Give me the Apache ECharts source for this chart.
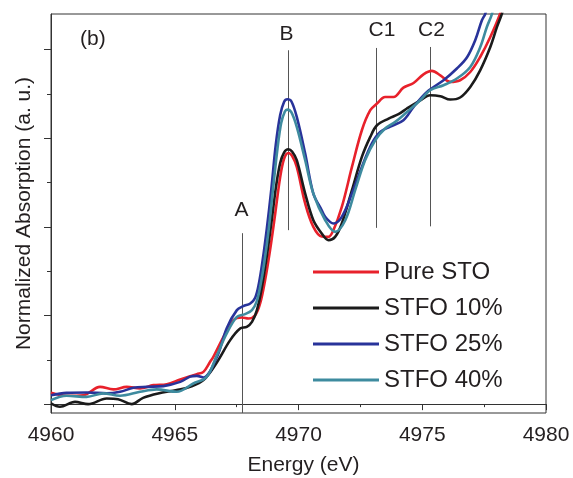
<!DOCTYPE html>
<html>
<head>
<meta charset="utf-8">
<script src="https://cdn.jsdelivr.net/npm/echarts@6/dist/echarts.min.js"></script>
<style>
html,body{margin:0;padding:0;background:#fff;}
#chart{width:573px;height:478px;}
</style>
</head>
<body>
<div id="chart"></div>
<script>
// ---- data (Energy eV, normalized absorption a.u.) ----
const seriesNames = ['Pure STO', 'STFO 10%', 'STFO 25%', 'STFO 40%'];
const seriesColors = ['#e8212b', '#1b1b1b', '#28339a', '#3e8b9f'];

const pureSTO = [
  [4960.00,0.127],[4960.63,0.094],[4961.31,0.101],[4961.98,0.195],[4962.52,0.166],[4963.06,0.195],
  [4963.60,0.177],[4964.14,0.214],[4964.68,0.225],[4965.22,0.278],[4965.89,0.338],[4966.16,0.364],
  [4966.43,0.477],[4966.56,0.533],[4966.97,0.759],[4967.37,0.947],[4967.71,0.977],[4967.98,0.966],
  [4968.25,1.003],[4968.45,1.135],[4968.65,1.398],[4968.85,1.736],[4969.06,2.150],[4969.26,2.560],
  [4969.42,2.770],[4969.59,2.833],[4969.74,2.800],[4969.93,2.675],[4970.27,2.263],[4970.60,1.999],
  [4970.94,1.890],[4971.21,1.886],[4971.41,1.962],[4971.75,2.224],[4972.16,2.675],[4972.56,3.089],
  [4972.90,3.315],[4973.17,3.390],[4973.50,3.464],[4973.84,3.464],[4974.24,3.570],[4974.65,3.622],
  [4975.05,3.720],[4975.39,3.758],[4975.73,3.709],[4976.13,3.634],[4976.53,3.653],[4976.94,3.746],
  [4977.34,3.915],[4977.75,4.140],[4978.15,4.405],[4978.35,4.600]
];
const stfo10 = [
  [4960.00,0.008],[4960.36,-0.030],[4960.97,0.026],[4961.50,0.000],[4962.25,0.064],[4962.71,0.056],
  [4963.26,0.000],[4963.72,0.071],[4964.33,0.121],[4965.08,0.158],[4965.62,0.195],[4966.16,0.271],
  [4966.70,0.470],[4967.24,0.722],[4967.64,0.853],[4967.91,0.871],[4968.12,0.928],[4968.32,1.060],
  [4968.52,1.320],[4968.72,1.670],[4968.92,2.080],[4969.10,2.470],[4969.26,2.720],[4969.42,2.840],
  [4969.59,2.875],[4969.74,2.850],[4969.93,2.751],[4970.27,2.375],[4970.60,2.074],[4970.94,1.924],
  [4971.21,1.849],[4971.48,1.886],[4971.75,2.037],[4972.16,2.413],[4972.56,2.788],[4972.90,3.014],
  [4973.17,3.145],[4973.64,3.221],[4974.04,3.270],[4974.38,3.334],[4974.92,3.427],[4975.32,3.484],
  [4975.73,3.473],[4976.13,3.435],[4976.53,3.458],[4976.94,3.577],[4977.34,3.765],[4977.75,4.028],
  [4978.02,4.254],[4978.22,4.405],[4978.40,4.600]
];
const stfo25 = [
  [4960.00,0.101],[4960.63,0.127],[4961.44,0.132],[4962.25,0.121],[4962.79,0.139],[4963.33,0.184],
  [4963.87,0.195],[4964.54,0.203],[4965.22,0.251],[4965.62,0.310],[4965.89,0.319],[4966.16,0.300],
  [4966.70,0.530],[4967.10,0.857],[4967.51,1.060],[4967.77,1.105],[4968.05,1.135],[4968.25,1.200],
  [4968.40,1.360],[4968.55,1.620],[4968.72,1.980],[4968.90,2.420],[4969.08,2.920],[4969.26,3.260],
  [4969.42,3.410],[4969.55,3.438],[4969.71,3.416],[4969.93,3.239],[4970.27,2.826],[4970.60,2.375],
  [4970.94,2.187],[4971.08,2.112],[4971.41,2.037],[4971.75,2.112],[4972.16,2.375],[4972.56,2.675],
  [4972.96,2.939],[4973.30,3.070],[4973.71,3.130],[4974.24,3.202],[4974.65,3.352],[4975.19,3.521],
  [4975.86,3.653],[4976.40,3.785],[4976.81,3.912],[4977.14,4.104],[4977.41,4.329],[4977.55,4.405],
  [4977.71,4.600]
];
const stfo40 = [
  [4960.00,0.045],[4960.63,0.094],[4961.44,0.082],[4962.11,0.121],[4962.79,0.094],[4963.60,0.139],
  [4964.27,0.166],[4965.08,0.139],[4965.75,0.233],[4966.29,0.308],[4966.70,0.550],[4967.10,0.797],
  [4967.51,0.984],[4967.84,1.015],[4968.12,1.060],[4968.30,1.150],[4968.45,1.320],[4968.62,1.600],
  [4968.80,1.980],[4968.98,2.450],[4969.15,2.880],[4969.30,3.170],[4969.45,3.300],[4969.55,3.322],
  [4969.71,3.292],[4969.93,3.126],[4970.27,2.751],[4970.60,2.375],[4971.08,2.074],[4971.48,1.943],
  [4971.89,2.074],[4972.29,2.413],[4972.69,2.751],[4973.10,2.976],[4973.50,3.108],[4973.91,3.183],
  [4974.31,3.277],[4974.92,3.427],[4975.32,3.540],[4975.86,3.597],[4976.40,3.672],[4976.94,3.803],
  [4977.34,4.025],[4977.61,4.254],[4977.82,4.405],[4977.95,4.600]
];
const allSeries = [pureSTO, stfo10, stfo25, stfo40];

// x axis ticks
const xMin = 4960, xMax = 4980, xStep = 5;
// y axis ticks (no labels in the original)
const yMin = -0.1, yMax = 4.4;
const yMajorTicks = [0, 1, 2, 3, 4];
const yMinorTicks = [0.5, 1.5, 2.5, 3.5];

// feature annotations
const featNames = ['A', 'B', 'C1', 'C2'];
const featLineX = [4967.73, 4969.58, 4973.14, 4975.32];
const featLineTop = [1.928, 3.991, 4.017, 4.028];
const featLineBottom = [-0.1, 1.962, 1.988, 2.005];
const featLabelX = [4967.70, 4969.52, 4973.37, 4975.37];
const featLabelY = [2.187, 4.171, 4.222, 4.222];

const FONT = '"Liberation Sans", Arial, sans-serif';
const TXT = '#231f20';

const chart = echarts.init(document.getElementById('chart'), null, {renderer: 'canvas'});

const lineSeries = seriesNames.map((name, i) => ({
  name: name,
  type: 'line',
  data: allSeries[i],
  showSymbol: false,
  symbol: 'none',
  smooth: 0.35,
  clip: true,
  lineStyle: {color: seriesColors[i], width: 2.6},
  itemStyle: {color: seriesColors[i]},
  z: 3 + i,
  silent: true
}));

const markLineData = featNames.map((n, i) => [
  {coord: [featLineX[i], featLineBottom[i]]},
  {coord: [featLineX[i], featLineTop[i]]}
]);

const annotSeries = {
  type: 'scatter',
  name: 'annot',
  data: featNames.map((n, i) => ({name: n, value: [featLabelX[i], featLabelY[i]]})),
  symbolSize: 0,
  silent: true,
  z: 10,
  itemStyle: {opacity: 1, color: TXT},
  label: {
    show: true,
    position: 'inside',
    formatter: '{b}',
    fontFamily: FONT,
    fontSize: 21,
    color: TXT,
    opacity: 1
  },
  markLine: {
    silent: true,
    symbol: ['none', 'none'],
    label: {show: false},
    lineStyle: {color: '#555', width: 1, type: 'solid', opacity: 1},
    emphasis: {disabled: true},
    data: markLineData,
    z: 2
  }
};

const option = {
  backgroundColor: '#fff',
  animation: false,
  grid: {
    left: 51, right: 27, top: 14, bottom: 65,
    show: true, borderColor: '#333', borderWidth: 1,
    containLabel: false, outerBoundsMode: 'none'
  },
  legend: {
    data: seriesNames,
    orient: 'vertical',
    left: 313,
    top: 260,
    padding: 0,
    itemWidth: 66,
    itemHeight: 3,
    itemGap: 12,
    icon: 'rect',
    selectedMode: false,
    textStyle: {fontFamily: FONT, fontSize: 24, color: TXT}
  },
  graphic: [{
    type: 'text',
    left: 80,
    top: 29,
    style: {text: '(b)', fontFamily: FONT, fontSize: 21, fill: TXT}
  }],
  xAxis: {
    type: 'value',
    min: xMin, max: xMax, interval: xStep,
    name: 'Energy (eV)',
    nameLocation: 'middle',
    nameGap: 42,
    nameTextStyle: {fontFamily: FONT, fontSize: 21, color: TXT, padding: [0, 0, 0, 10]},
    axisLine: {show: true, lineStyle: {color: '#333', width: 1}},
    axisTick: {show: true, inside: false, length: 6, lineStyle: {color: '#333', width: 1}},
    minorTick: {show: true, splitNumber: 2, length: 3, lineStyle: {color: '#333', width: 1}},
    axisLabel: {fontFamily: FONT, fontSize: 21, color: TXT, margin: 12, formatter: v => String(v)},
    splitLine: {show: false},
    minorSplitLine: {show: false}
  },
  yAxis: [{
    type: 'value',
    min: yMin, max: yMax,
    position: 'left',
    name: 'Normalized Absorption (a. u.)',
    nameLocation: 'middle',
    nameGap: 16,
    nameTextStyle: {fontFamily: FONT, fontSize: 21, color: TXT},
    axisLine: {show: true, lineStyle: {color: '#333', width: 1}},
    axisTick: {show: true, inside: false, length: 7, customValues: yMajorTicks, lineStyle: {color: '#333', width: 1}},
    axisLabel: {show: false, customValues: yMajorTicks},
    splitLine: {show: false}
  }, {
    type: 'value',
    min: yMin, max: yMax,
    position: 'left',
    offset: 0,
    axisLine: {show: false},
    axisTick: {show: true, inside: false, length: 4, customValues: yMinorTicks, lineStyle: {color: '#333', width: 1}},
    axisLabel: {show: false, customValues: yMinorTicks},
    splitLine: {show: false}
  }],
  series: lineSeries.concat([annotSeries])
};

chart.setOption(option);
</script>
</body>
</html>
